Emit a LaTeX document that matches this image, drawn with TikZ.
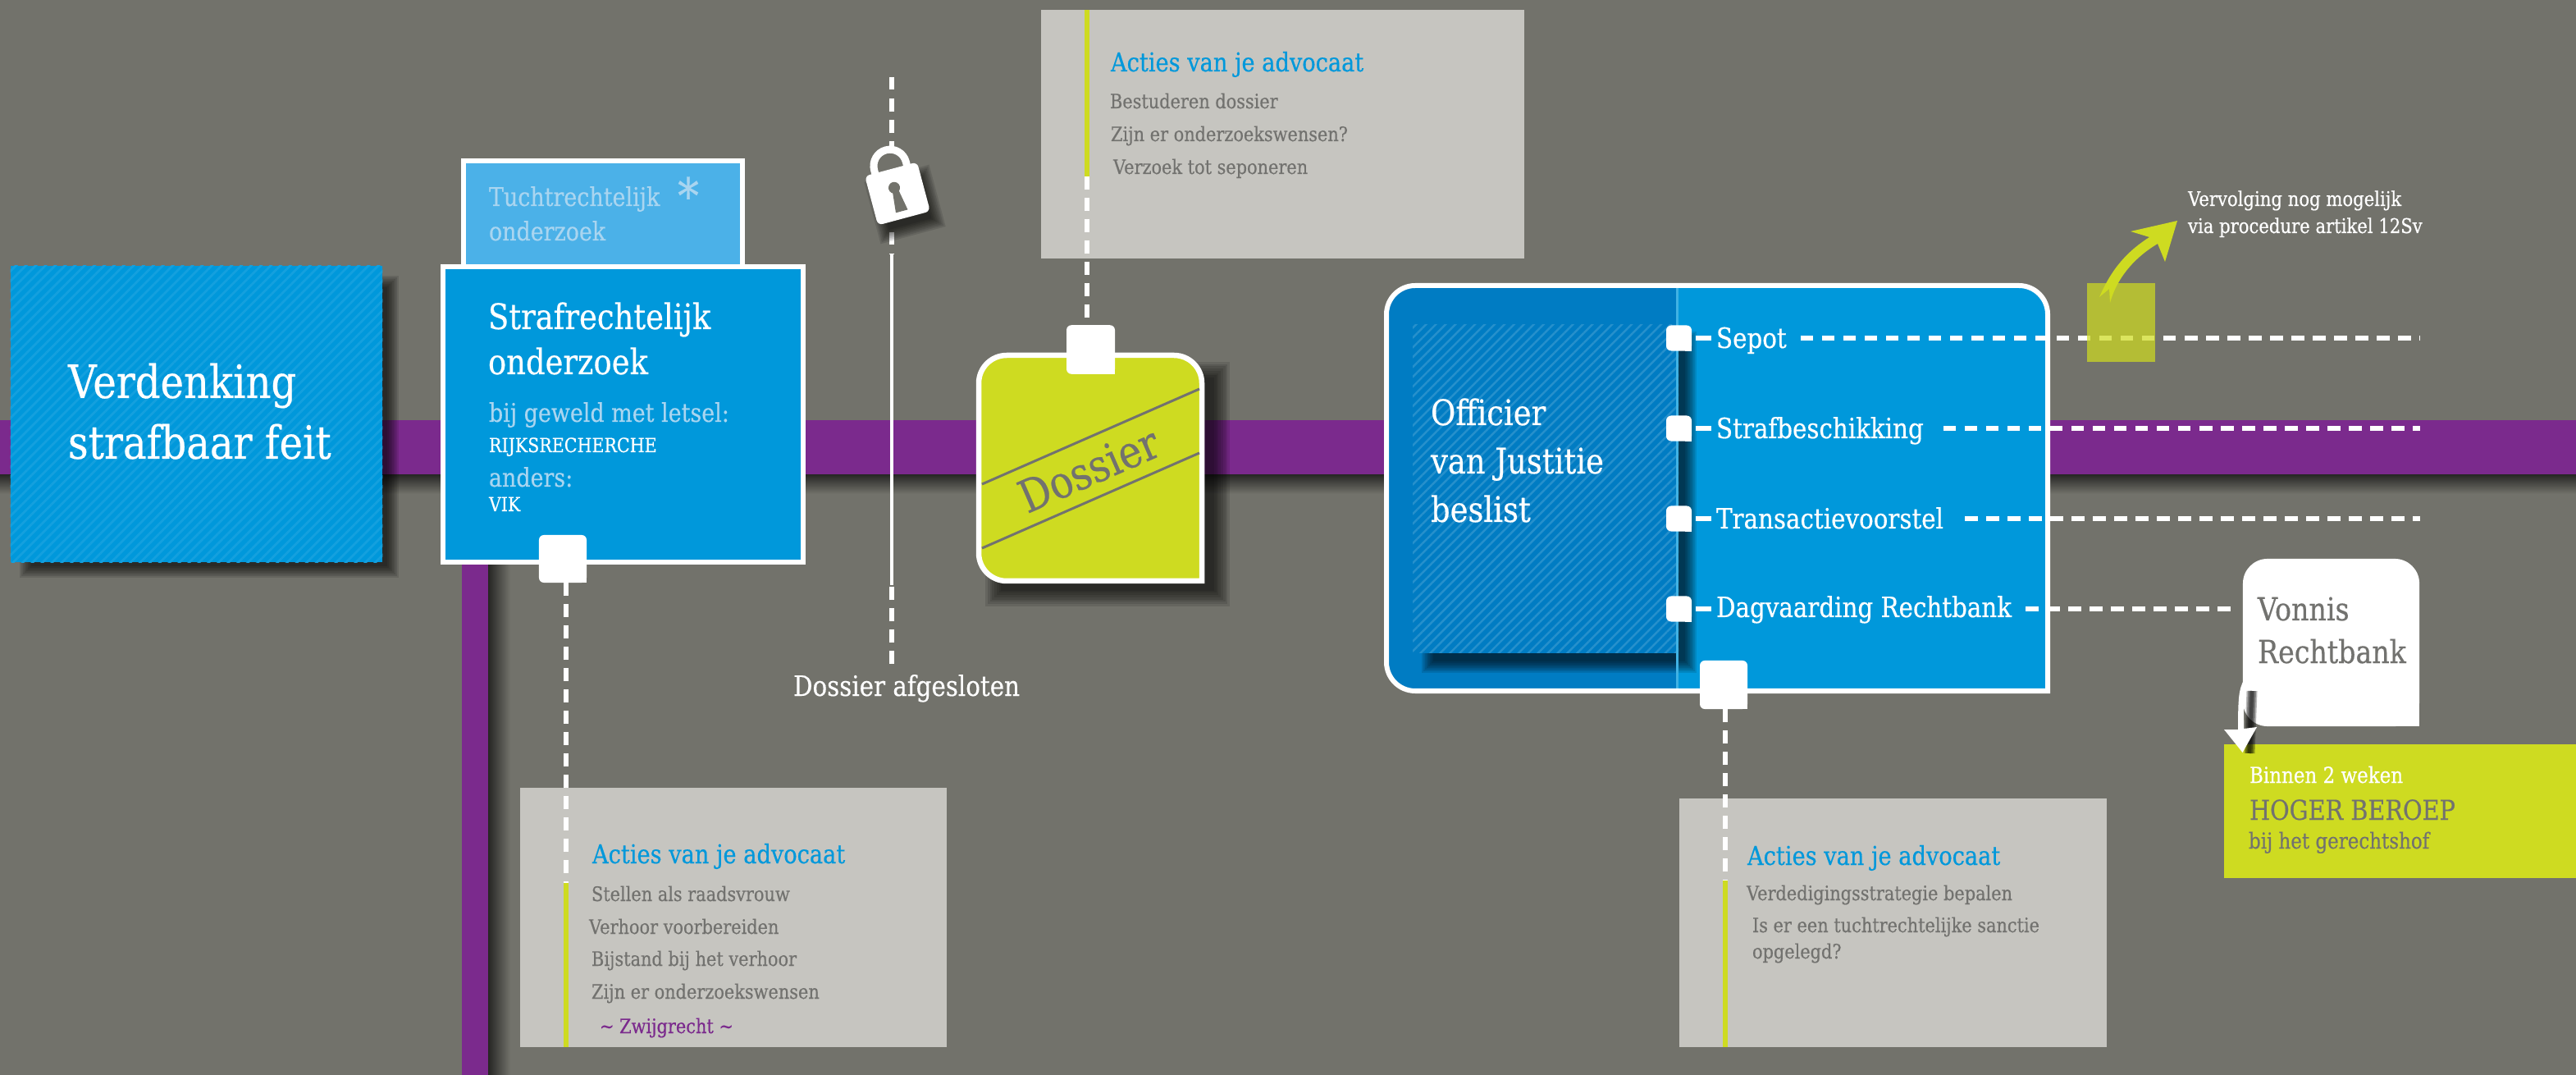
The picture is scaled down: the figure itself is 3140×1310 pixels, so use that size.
\documentclass[tikz,border=0pt]{standalone}
\usepackage{fontspec}
\setmainfont[FakeStretch=0.86, FakeBold=0.4]{DejaVu Serif}
\usetikzlibrary{patterns.meta}
\definecolor{bgray}{HTML}{72726B}
\definecolor{bandpurple}{HTML}{7B2A8D}
\definecolor{mainblue}{HTML}{0098DB}
\definecolor{darkblue}{HTML}{007CC3}
\definecolor{skyblue}{HTML}{4BB1E8}
\definecolor{paleblue}{HTML}{A9D5F0}
\definecolor{lime}{HTML}{CEDB21}
\definecolor{paper}{HTML}{C6C5C0}
\definecolor{inkgray}{HTML}{72726F}
\definecolor{shadowdark}{HTML}{262624}
\tikzset{
    label/.style={anchor=base west, inner sep=0, outer sep=0},
    big title/.style={label, white, font=\fontsize{15.9}{18}\selectfont},
    box title/.style={label, white, font=\fontsize{12.2}{14}\selectfont},
    pale text/.style={label, paleblue, font=\fontsize{8.9}{10}\selectfont},
    caps text/.style={label, white, font=\fontsize{6.8}{7}\selectfont},
    option text/.style={label, white, font=\fontsize{9.7}{11}\selectfont},
    small white/.style={label, white, font=\fontsize{7}{8}\selectfont},
    acties head/.style={label, mainblue, font=\fontsize{9}{10}\selectfont},
    acties line/.style={label, inkgray, font=\fontsize{6.9}{8}\selectfont},
    basic/.style={rectangle, inner sep=0, outer sep=0},
    paper box/.style={basic, fill=paper},
    strip/.style={basic, fill=lime, minimum width=0.055cm},
    white box/.style={basic, draw=white, line width=0.06cm},
    tabmark/.style={basic, fill=white, rounded corners=0.06cm},
    dashline/.style={white, line width=0.055cm, dash pattern=on 0.155cm off 0.105cm},
    stubline/.style={white, line width=0.055cm}
}
\newcommand{\tagpath}[5]{(#3,#4) -- ({(#1+#3)/2},#4) [rounded corners=#5] -- (#1,#4) -- (#1,#2) -- (#3,#2) -- (#3,{(#2+#4)/2}) [sharp corners] -- cycle}
\newcommand{\softshadow}[5]{
    \foreach \i in {0,...,7} {
        \fill[black, opacity=0.11] ({#1-#5+\i*#5/4},{#2-#5+\i*#5/4}) rectangle ({#3+#5-\i*#5/4},{#4+#5-\i*#5/4});
    }
}
\newcommand{\tabnode}[5]{
    \node[tabmark, minimum width=#4, minimum height=#5] (#1) at (#2,#3) {};
    \fill[white] (#1.south east) rectangle ++(-8,-8);
}
\begin{document}
\begin{tikzpicture}[x=0.01cm, y=-0.01cm]
    \fill[bgray] (0,0) rectangle (3140,1310);
    \useasboundingbox (0,0) rectangle (3140,1310);

    \shade[top color=shadowdark, bottom color=bgray] (0,578) rectangle (3140,602);
    \fill[bandpurple] (0,512) rectangle (3140,578);
    \shade[left color=shadowdark, right color=bgray] (595,688) rectangle (622,1310);
    \fill[bandpurple] (563,688) rectangle (595,1310);

    \softshadow{32}{344}{478}{696}{8}
    \node[basic, fill=mainblue, minimum width=4.535cm, minimum height=3.61cm] (verdenking) at (239.5,504.5) {};
    \fill[pattern={Lines[angle=45, distance=2.4pt, line width=0.8pt]}, pattern color=white!8!mainblue] (verdenking.north west) rectangle (verdenking.south east);
    \node[big title] (verdenkingA) at (83,485) {Verdenking};
    \node[big title] (verdenkingB) at (83,559) {strafbaar feit};

    \node[white box, fill=skyblue, minimum width=3.39cm, minimum height=1.34cm] (tucht) at (735,263) {};
    \node[pale text] (tuchtA) at (596,251) {Tuchtrechtelijk};
    \node[pale text] (tuchtB) at (596,293) {onderzoek};
    \node[anchor=base, inner sep=0, paleblue, font=\fontsize{17}{18}\selectfont] (tuchtStar) at (839,260) {*};

    \node[white box, fill=mainblue, minimum width=4.39cm, minimum height=3.6cm] (straf) at (759.5,505) {};
    \node[box title] (strafA) at (595,401) {Strafrechtelijk};
    \node[box title] (strafB) at (595,456) {onderzoek};
    \node[pale text] (strafC) at (596,514) {bij geweld met letsel:};
    \node[caps text] (strafD) at (596,551) {RIJKSRECHERCHE};
    \node[pale text] (strafE) at (596,593) {anders:};
    \node[caps text] (strafF) at (596,623) {VIK};
    \tabnode{tabStraf}{686}{681}{0.58cm}{0.58cm}

    \node[paper box, minimum width=5.2cm, minimum height=3.16cm] (paperStraf) at (894,1118) {};
    \node[strip, minimum height=2cm] (stripStraf) at (690,1176) {};
    \draw[dashline] (tabStraf.south -| stripStraf.north) -- (stripStraf.north);
    \node[acties head] (strafHead) at (722,1052) {Acties van je advocaat};
    \node[acties line] (strafL1) at (721,1098) {Stellen als raadsvrouw};
    \node[acties line] (strafL2) at (718,1138) {Verhoor voorbereiden};
    \node[acties line] (strafL3) at (721,1177) {Bijstand bij het verhoor};
    \node[acties line] (strafL4) at (721,1217) {Zijn er onderzoekswensen};
    \node[acties line, bandpurple] (strafL5) at (731,1259) {\textasciitilde{} Zwijgrecht \textasciitilde};

    \coordinate (lockTop) at (1087,94);
    \coordinate (lockUnder) at (1087,180);
    \coordinate (closedA) at (1087,283);
    \coordinate (closedB) at (1087,310);
    \coordinate (closedC) at (1087,713);
    \coordinate (closedD) at (1087,813);
    \draw[dashline] (lockTop) -- (lockUnder);
    \draw[dashline] (closedA) -- (closedB);
    \draw[stubline, line width=0.045cm] (closedB) -- (closedC);
    \draw[dashline] (closedC) ++(0,2) -- (closedD);
    \node[label, white, font=\fontsize{9.7}{11}\selectfont] (closedText) at (967,848) {Dossier afgesloten};
    \begin{scope}[shift={(1103,249)}, rotate=15]
        \softshadow{-33}{-31}{33}{31}{8}
    \end{scope}
    \begin{scope}[shift={(1094,236)}, rotate=15]
        \fill[white, rounded corners=0.06cm] (-33,-31) rectangle (33,31);
        \draw[white, line width=0.09cm] (-20,-28) -- (-20,-35) .. controls (-20,-46) and (-11,-55) .. (0,-55) .. controls (11,-55) and (20,-46) .. (20,-35) -- (20,-28);
        \fill[bgray] (-2,-8) circle [radius=0.07cm];
        \fill[bgray] (-5,-6) -- (-8,22) -- (7,22) -- (2,-6) -- cycle;
    \end{scope}

    \node[paper box, minimum width=5.89cm, minimum height=3.03cm] (paperDos) at (1563.5,163.5) {};
    \node[strip, minimum height=2.03cm] (stripDos) at (1325,113.5) {};
    \node[acties head] (dosHead) at (1354,87) {Acties van je advocaat};
    \node[acties line] (dosL1) at (1353,132) {Bestuderen dossier};
    \node[acties line] (dosL2) at (1354,172) {Zijn er onderzoekswensen?};
    \node[acties line] (dosL3) at (1357,212) {Verzoek tot seponeren};

    \softshadow{1212}{452}{1488}{728}{11}
    \draw[white, fill=lime, line width=0.065cm] \tagpath{1193}{433}{1465}{708}{0.34cm};
    \draw[inkgray, line width=0.03cm] (1197,590) -- (1462,474);
    \draw[inkgray, line width=0.03cm] (1197,668) -- (1462,552);
    \node[inner sep=0, rotate=23.6, inkgray, font=\fontsize{15.6}{17}\selectfont] (dosText) at (1327,572) {Dossier};
    \tabnode{tabDos}{1329.5}{426}{0.59cm}{0.595cm}
    \draw[dashline] (stripDos.south) -- (tabDos.north -| stripDos.south);

    \fill[mainblue] \tagpath{1690}{348}{2496}{842}{0.35cm};
    \begin{scope}
        \clip \tagpath{1690}{348}{2496}{842}{0.35cm};
        \fill[darkblue] (1690,348) rectangle (2044,842);
        \softshadow{1741}{412}{2060}{812}{8}
        \fill[darkblue] (1722,396) rectangle (2046,796);
        \fill[pattern={Lines[angle=45, distance=2.4pt, line width=0.7pt]}, pattern color=white!15!darkblue] (1722,396) rectangle (2046,796);
        \fill[white!25!mainblue] (2042.5,348) rectangle (2045.5,842);
    \end{scope}
    \node[box title] (offA) at (1744,518) {Officier};
    \node[box title] (offB) at (1744,577) {van Justitie};
    \node[box title] (offC) at (1744,636) {beslist};

    \tabnode{tabSepot}{2046.5}{412}{0.31cm}{0.31cm}
    \tabnode{tabStrafb}{2046.5}{522}{0.31cm}{0.31cm}
    \tabnode{tabTrans}{2046.5}{632}{0.31cm}{0.31cm}
    \tabnode{tabDag}{2046.5}{742}{0.31cm}{0.31cm}
    \node[option text] (optSepot) at (2092,424) {Sepot};
    \node[option text] (optStrafb) at (2092,534) {Strafbeschikking};
    \node[option text] (optTrans) at (2092,644) {Transactievoorstel};
    \node[option text] (optDag) at (2092,752) {Dagvaarding Rechtbank};
    \coordinate (endSepot) at (2950,412);
    \coordinate (endStrafb) at (2950,522);
    \coordinate (endTrans) at (2950,632);

    \draw[white, line width=0.06cm] \tagpath{1690}{348}{2496}{842}{0.35cm};
    \tabnode{tabOff}{2101}{834.5}{0.58cm}{0.59cm}

    \foreach \from/\to in {tabSepot/optSepot, tabStrafb/optStrafb, tabTrans/optTrans, tabDag/optDag} {
        \draw[stubline, shorten <=0.05cm, shorten >=0.06cm] (\from.east) -- (\from.east -| \to.west);
    }
    \draw[dashline, shorten <=0.17cm] (tabSepot.east -| optSepot.east) -- (endSepot);
    \draw[dashline, shorten <=0.24cm] (tabStrafb.east -| optStrafb.east) -- (endStrafb);
    \draw[dashline, shorten <=0.26cm] (tabTrans.east -| optTrans.east) -- (endTrans);

    \node[paper box, minimum width=5.2cm, minimum height=3.03cm] (paperOff) at (2307.5,1124.5) {};
    \node[strip, minimum height=2.03cm] (stripOff) at (2103,1174.5) {};
    \draw[dashline] (tabOff.south -| stripOff.north) -- (stripOff.north);
    \node[acties head] (offHead) at (2130,1054) {Acties van je advocaat};
    \node[acties line] (offL1) at (2129,1097) {Verdedigingsstrategie bepalen};
    \node[acties line] (offL2) at (2136,1136) {Is er een tuchtrechtelijke sanctie};
    \node[acties line] (offL3) at (2136,1168) {opgelegd?};

    \fill[lime, opacity=0.72] (2544,345) rectangle (2627,441);
    \fill[lime] (2559,362) .. controls (2575,325) and (2595,305) .. (2620,289) -- (2597,282) -- (2654,269) -- (2639,319) -- (2630,297) .. controls (2600,315) and (2580,340) .. (2572,369) -- (2571,352) -- cycle;
    \node[small white] (nextA) at (2667,251) {Vervolging nog mogelijk};
    \node[small white] (nextB) at (2667,284) {via procedure artikel 12Sv};

    \node[basic, fill=white, rounded corners=0.3cm, minimum width=2.15cm, minimum height=2.04cm] (vonnis) at (2841.5,783) {};
    \fill[white] (vonnis.south east) rectangle ++(-40,-40);
    \draw[dashline, shorten <=0.17cm, shorten >=0.08cm] (tabDag.east -| optDag.east) -- (tabDag.east -| vonnis.west);
    \node[label, inkgray, font=\fontsize{11}{13}\selectfont] (vonnisA) at (2752,756) {Vonnis};
    \node[label, inkgray, font=\fontsize{11}{13}\selectfont] (vonnisB) at (2752,808) {Rechtbank};

    \node[basic, fill=lime, minimum width=4.29cm, minimum height=1.63cm] (beroep) at (2925.5,988.5) {};
    \node[label, white, font=\fontsize{7.6}{9}\selectfont] (beroepA) at (2742,954) {Binnen 2 weken};
    \node[label, inkgray, font=\fontsize{9.5}{11}\selectfont] (beroepB) at (2742,999) {HOGER BEROEP};
    \node[label, inkgray, font=\fontsize{7.6}{9}\selectfont] (beroepC) at (2741,1034) {bij het gerechtshof};

    \foreach \w in {0.13,0.10,0.07,0.04} {
        \draw[black, opacity=0.28, line width=\w cm] (2745,842) -- (2742,918);
    }
    \fill[white] (2735,829) .. controls (2729,840) and (2728,850) .. (2728,889) -- (2711,889) -- (2733.5,917) -- (2751,886) -- (2735,888) .. controls (2735,860) and (2734,845) .. (2735,829) -- cycle;
\end{tikzpicture}
\end{document}
